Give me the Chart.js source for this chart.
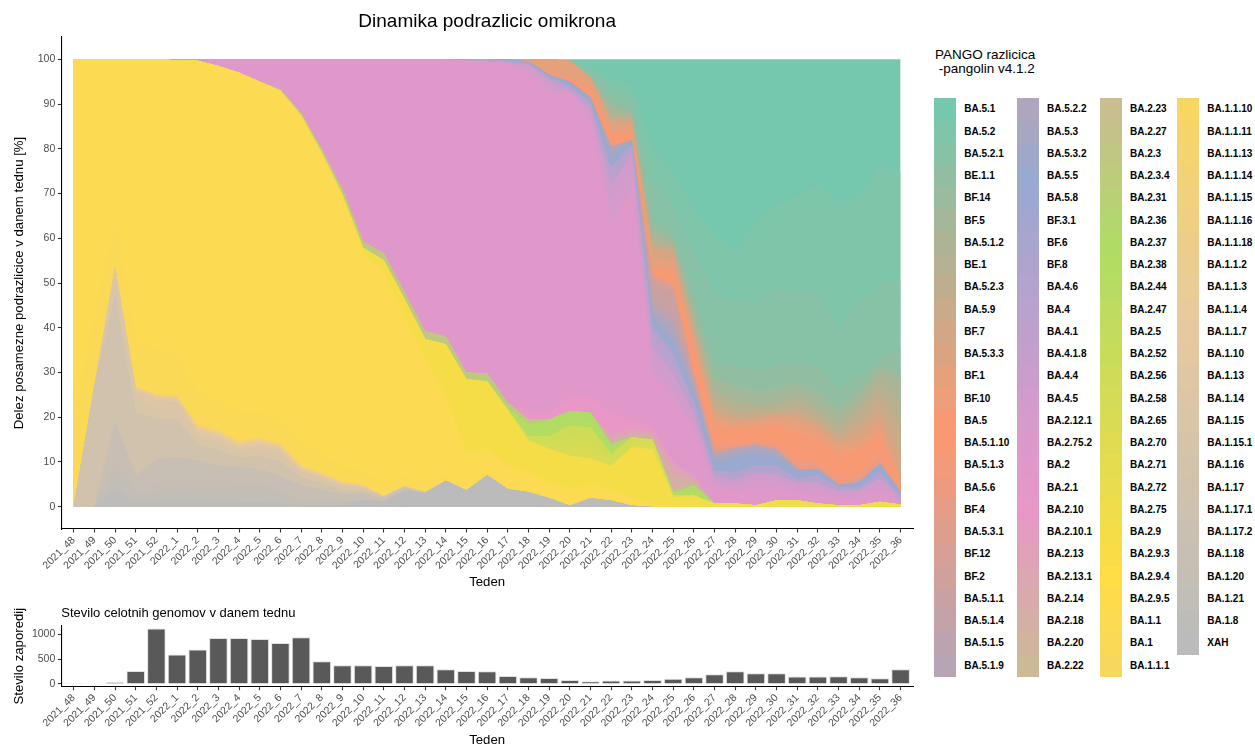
<!DOCTYPE html>
<html>
<head>
<meta charset="utf-8">
<title>Dinamika podrazlicic omikrona</title>
<script src="https://cdn.jsdelivr.net/npm/chart.js@4.4.1/dist/chart.umd.min.js"></script>
<style>
  body { margin: 0; background: #fff; font-family: "Liberation Sans", Arial, Helvetica, sans-serif; }
  #wrap { position: relative; width: 1255px; height: 747px; overflow: hidden; }
  canvas { position: absolute; left: 0; }
  #shares { top: 0; }
  #counts { top: 600px; }
  .lg-title { position: absolute; left: 935px; top: 48px; font-size: 13.5px; line-height: 13.5px; color: #000; white-space: pre; }
  .lg-key { position: absolute; width: 22px; height: 22.4px; }
  .lg-label { position: absolute; font-size: 10px; font-weight: bold; line-height: 12px; color: #000; white-space: nowrap; }
</style>
</head>
<body>
<div id="wrap">
  <canvas id="shares" width="925" height="600"></canvas>
  <canvas id="counts" width="925" height="147"></canvas>
  <div id="legend"></div>
</div>
<script>
const weeks = ['2021_48', '2021_49', '2021_50', '2021_51', '2021_52',
  '2022_1', '2022_2', '2022_3', '2022_4', '2022_5', '2022_6', '2022_7', '2022_8', '2022_9', '2022_10',
  '2022_11', '2022_12', '2022_13', '2022_14', '2022_15', '2022_16', '2022_17', '2022_18', '2022_19', '2022_20',
  '2022_21', '2022_22', '2022_23', '2022_24', '2022_25', '2022_26', '2022_27', '2022_28', '2022_29', '2022_30',
  '2022_31', '2022_32', '2022_33', '2022_34', '2022_35', '2022_36'];

// number of whole genomes per week
const genomes = [2, 12, 35, 262, 1121, 597, 698, 926, 926, 906, 826, 946, 456, 376, 376, 362, 376, 376, 295, 260,
  255, 161, 134, 121, 80, 54, 67, 67, 80, 107, 134, 195, 255, 215, 215, 148, 148, 154, 134, 114, 295];

// legend order (first one is stacked on top)
const lineages = [
  'BA.5.1', 'BA.5.2', 'BA.5.2.1', 'BE.1.1', 'BF.14', 'BF.5', 'BA.5.1.2', 'BE.1', 'BA.5.2.3', 'BA.5.9', 'BF.7', 'BA.5.3.3', 'BF.1',
  'BF.10', 'BA.5', 'BA.5.1.10', 'BA.5.1.3', 'BA.5.6', 'BF.4', 'BA.5.3.1', 'BF.12', 'BF.2', 'BA.5.1.1', 'BA.5.1.4', 'BA.5.1.5', 'BA.5.1.9',
  'BA.5.2.2', 'BA.5.3', 'BA.5.3.2', 'BA.5.5', 'BA.5.8', 'BF.3.1', 'BF.6', 'BF.8', 'BA.4.6', 'BA.4', 'BA.4.1', 'BA.4.1.8', 'BA.4.4',
  'BA.4.5', 'BA.2.12.1', 'BA.2.75.2', 'BA.2', 'BA.2.1', 'BA.2.10', 'BA.2.10.1', 'BA.2.13', 'BA.2.13.1', 'BA.2.14', 'BA.2.18', 'BA.2.20', 'BA.2.22',
  'BA.2.23', 'BA.2.27', 'BA.2.3', 'BA.2.3.4', 'BA.2.31', 'BA.2.36', 'BA.2.37', 'BA.2.38', 'BA.2.44', 'BA.2.47', 'BA.2.5', 'BA.2.52', 'BA.2.56',
  'BA.2.58', 'BA.2.65', 'BA.2.70', 'BA.2.71', 'BA.2.72', 'BA.2.75', 'BA.2.9', 'BA.2.9.3', 'BA.2.9.4', 'BA.2.9.5', 'BA.1.1', 'BA.1', 'BA.1.1.1',
  'BA.1.1.10', 'BA.1.1.11', 'BA.1.1.13', 'BA.1.1.14', 'BA.1.1.15', 'BA.1.1.16', 'BA.1.1.18', 'BA.1.1.2', 'BA.1.1.3', 'BA.1.1.4', 'BA.1.1.7',
  'BA.1.10', 'BA.1.13', 'BA.1.14', 'BA.1.15', 'BA.1.15.1', 'BA.1.16', 'BA.1.17', 'BA.1.17.1', 'BA.1.17.2', 'BA.1.18', 'BA.1.20', 'BA.1.21',
  'BA.1.8', 'XAH'];

// share of sequences per week [%], lineages not listed here are ~0
const BA_5_1 = [0,0,0,0,0,0,0,0,0,0, 0,0,0,0,0,0,0,0,0,0, 0, 0,0,0,0.3,1.5,4,6,20,25,33.7, 39,43,36.6,32.5,30.7,28,31.8,30.7,23.6,25.1];
const BA_5_2 = [0,0,0,0,0,0,0,0,0,0, 0,0,0,0,0,0,0,0,0,0, 0, 0,0,0,0,1.2,2.4,2.7,7,8,9.6, 13.2,11.1,17.9,18.6,21.2,24.2,27.9,23.4,27.1,24.2];
const BA_5_2_1 = [0,0,0,0,0,0,0,0,0,0, 0,0,0,0,0,0,0,0,0,0, 0, 0,0,0,0,0.7,2,2,8,6,8.9, 15.3,14.1,15.2,17.1,15.6,16.7,14.1,16.7,16.4,15.2];
const BE_1_1 = [0,0,0,0,0,0,0,0,0,0, 0,0,0,0,0,0,0,0,0,0, 0, 0,0,0,0,0.5,2,1.2,2.5,1.5,3, 3.4,4.5,4,5,4.4,5,4,3,1.5,5];
const BF_14 = [0,0,0,0,0,0,0,0,0,0, 0,0,0,0,0,0,0,0,0,0, 0, 0,0,0,0,0,0,0,0.5,0,0.5, 0.8,1.2,1,1.2,1,1.3,1,1,0.6,1.5];
const BF_5 = [0,0,0,0,0,0,0,0,0,0, 0,0,0,0,0,0,0,0,0,0, 0, 0,0,0,0,0,1,0.7,1.3,0.8,1.5, 1.7,2.5,2,2.3,2,2.3,2,1.6,0.9,2];
const BA_5_1_2 = [0,0,0,0,0,0,0,0,0,0, 0,0,0,0,0,0,0,0,0,0, 0, 0,0,0,0,0,1,0,1,0.6,1.2, 1.3,1,0.8,0.6,1,1,1,1.5,2,3.5];
const BE_1 = [0,0,0,0,0,0,0,0,0,0, 0,0,0,0,0,0,0,0,0,0, 0, 0,0,0,0,0,1.2,1,1.5,0.7,1.2, 1.5,1.2,1,0.8,1.2,1,1,1.5,2,3.5];
const BA_5_2_3 = [0,0,0,0,0,0,0,0,0,0, 0,0,0,0,0,0,0,0,0,0, 0, 0,0,0,0,0,0,0,0,0,0.5, 1.2,0.8,0.8,0.6,1,1,1,1.5,2,3.5];
const BA_5_9 = [0,0,0,0,0,0,0,0,0,0, 0,0,0,0,0,0,0,0,0,0, 0, 0,0,0,0,0,0,0,0,0,0.5, 1,0.8,0.6,0.5,1,0.9,1,1.5,2,3.5];
const BF_7 = [0,0,0,0,0,0,0,0,0,0, 0,0,0,0,0,0,0,0,0,0, 0, 0,0,0,0,0,0,0,1,1,1, 0.7,0.5,0.5,0.3,0.7,0.7,0.6,1.3,1.6,3];
const BA_5_3_3 = [0,0,0,0,0,0,0,0,0,0, 0,0,0,0,0,0,0,0,0,0, 0, 0,0,0,0,0.8,1,1,1.5,1.4,1, 0.7,0.5,0.4,0.3,0.7,0.6,0.6,1.2,1.5,3];
const BF_1 = [0,0,0,0,0,0,0,0,0,0, 0,0,0,0,0,0,0,0,0,0, 0, 0,0.5,3.2,3.9,1.5,1.6,1.3,2,2,1, 1,0.8,0.8,1,1.5,1.2,1.2,1.3,1.2,1];
const BF_10 = [0,0,0,0,0,0,0,0,0,0, 0,0,0,0,0,0,0,0,0,0, 0, 0,0,0,0,0,0,0,0,0,1, 1.2,0.8,0.7,1,1.5,1.2,1.3,1.3,1.3,0.7];
const BA_5 = [0,0,0,0,0,0,0,0,0,0, 0,0,0,0,0,0,0,0,0,0, 0, 0,0,0.3,0.8,2.3,2.5,2.2,1.5,2.5,3, 2.5,2,1.8,2.5,3.5,2.8,3,3,3,1];
const BA_5_1_10 = [0,0,0,0,0,0,0,0,0,0, 0,0,0,0,0,0,0,0,0,0, 0, 0,0,0,0,0,0.8,0,0.5,1.2,1.5, 1.5,1,1,1.3,2,1.5,1.5,1.6,1.5,0.5];
const BA_5_1_3 = [0,0,0,0,0,0,0,0,0,0, 0,0,0,0,0,0,0,0,0,0, 0, 0,0,0,0,0,0,0,0,0,0.8, 0.8,0.5,0.5,0.8,1.2,1,1,1.2,1,0.5];
const BA_5_6 = [0,0,0,0,0,0,0,0,0,0, 0,0,0,0,0,0,0,0,0,0, 0, 0,0,0,0,0,0,0,0,0,0.5, 0.4,0.5,0.4,0.7,0.8,0.7,0.7,0.7,0.7,0];
const BF_4 = [0,0,0,0,0,0,0,0,0,0, 0,0,0,0,0,0,0,0,0,0, 0, 0,0,0,0,0,0,0,0,0,0, 0.3,0,0,0,0.6,0.5,0.5,0.5,0.5,0];
const BF_12 = [0,0,0,0,0,0,0,0,0,0, 0,0,0,0,0,0,0,0,0,0, 0, 0,0,0,0,0,0,0,1,1,0.5, 0.3,0,0,0,0,0,0,0,0,0];
const BF_2 = [0,0,0,0,0,0,0,0,0,0, 0,0,0,0,0,0,0,0,0,0, 0, 0,0,0,0,0,0,0,1,1,0, 0,0,0,0,0,0,0,0,0,0];
const BA_5_1_1 = [0,0,0,0,0,0,0,0,0,0, 0,0,0,0,0,0,0,0,0,0, 0, 0,0,0,0,0,0,0,3,4,1.5, 0.8,0.5,0.5,0.4,0,0,0,0,0,0];
const BA_5_1_4 = [0,0,0,0,0,0,0,0,0,0, 0,0,0,0,0,0,0,0,0,0, 0, 0,0,0,0,0,0,0,1,1.2,0.5, 0,0,0,0,0,0,0,0,0,0];
const BA_5_1_5 = [0,0,0,0,0,0,0,0,0,0, 0,0,0,0,0,0,0,0,0,0, 0, 0,0,0,0,0,0,0,0.7,1,0, 0,0,0,0,0,0,0,0,0,0];
const BA_5_1_9 = [0,0,0,0,0,0,0,0,0,0, 0,0,0,0,0,0,0,0,0,0, 0, 0,0,0,0,0,0,0,0.7,0.8,0, 0,0,0,0,0,0,0,0,0,0];
const BA_5_2_2 = [0,0,0,0,0,0,0,0,0,0, 0,0,0,0,0,0,0,0,0,0, 0, 0,0,0,0,0,1,0,1,1.5,1, 0.5,0.8,0.8,0.6,0.4,0,0,0,0,0];
const BA_5_3 = [0,0,0,0,0,0,0,0,0,0, 0,0,0,0,0,0,0,0,0,0, 0, 0,0,0,0,0,1.5,0.4,1,1.5,0.5, 0.5,0.7,0.5,0.5,0,0,0,0,0,0];
const BA_5_3_2 = [0,0,0,0,0,0,0,0,0,0, 0,0,0,0,0,0,0,0,0,0, 0, 0,0,0,0,0,0,0,0.5,1,0, 0.4,0.8,0.8,0.6,0.5,0.5,0,0,0.5,0];
const BA_5_5 = [0,0,0,0,0,0,0,0,0,0, 0,0,0,0,0,0,0,0,0,0, 0, 0.3,0.3,0.5,1,1,2,0.6,1.5,2,1.5, 1.4,2,1.5,1.1,0.9,0.9,0.4,0.7,1,0.8];
const BA_5_8 = [0,0,0,0,0,0,0,0,0,0, 0,0,0,0,0,0,0,0,0,0, 0, 0,0,0,0,0,0,0,0,0,0.5, 0.5,0.7,0.7,0.5,0.4,0,0,0.4,0.4,0];
const BA_4_6 = [0,0,0,0,0,0,0,0,0,0, 0,0,0,0,0,0,0,0,0,0, 0, 0,0,0,0,0.5,1.5,0.5,1.5,1.5,1, 1,1.2,1.2,1.5,0.7,1.3,0.9,0.7,1.4,0.5];
const BA_4 = [0,0,0,0,0,0,0,0,0,0, 0,0,0,0,0,0,0,0,0,0.3, 0.5, 0.5,0.3,0.7,1,1,2,1,2,2,1, 0.6,0.5,0.6,0.7,0,0.4,0,0,0,0];
const BA_4_1 = [0,0,0,0,0,0,0,0,0,0, 0,0,0,0,0,0,0,0,0,0, 0, 0,0,0,0,0,1,0.5,1,1,0.7, 0,0,0,0,0,0,0,0,0,0];
const BA_4_4 = [0,0,0,0,0,0,0,0,0,0, 0,0,0,0,0,0,0,0,0,0, 0, 0,0,0,0,0,0,0,0.5,0.5,0, 0,0,0,0,0,0,0,0,0,0];
const BA_4_5 = [0,0,0,0,0,0,0,0,0,0, 0,0,0,0,0,0,0,0,0,0, 0, 0,0.5,0.8,0,0.8,4,4,3,3,2, 1,1.2,1.2,1.5,0.7,1.3,1,0.8,1.5,0.5];
const BA_2_12_1 = [0,0,0,0,0,0,0,0,0,0, 0,0,0,0,0,0,0,0,0,0, 0, 0,1.5,1.7,1,1.2,3.8,4,2.5,2,1.5, 1,0.8,1,0.8,0.5,0.4,0,0,0,0];
const BA_2_75_2 = [0,0,0,0,0,0,0,0,0,0, 0,0,0,0,0,0,0,0,0,0, 0, 0,0,0,0,0,0,0,0,0,0, 0.5,0.6,1.2,1,1,1.2,0.8,1,1.5,1];
const BA_2 = [0,0,0,0,0,0.2,0.3,1.5,3,5, 6.7,12,20,29,40.7,43.3,52,60.8,61.9,69.7,
  69.7, 75.9,75.4,71.3,67.1,62,42.8,51.4,11.8,14.4,10.6, 3.3,2.7,3.7,2.3,1.9,1.7,1.4,1.6,2.2,0];
const BA_2_1 = [0,0,0,0,0,0,0,0,0,0, 0,0,0,0,0,0,0,0,0,0, 0, 0,0.5,0.5,0.5,0.5,0,0,0,0,0, 0,0,0,0,0,0,0,0,0,0];
const BA_2_10 = [0,0,0,0,0,0,0,0,0,0, 0,0,0,0,0,0,0,0,0,0, 0, 0,1.5,1.5,3,3.5,4.7,2,1,0,0, 0,0,0,0,0,0,0,0,0,0];
const BA_2_13 = [0,0,0,0,0,0,0,0,0,0, 0,0,0,0,0,0,0,0,0,0, 0, 0,0,0,0,0,1,1,1,2,0.7, 0,0,0,0,0,0,0,0,0,0];
const BA_2_14 = [0,0,0,0,0,0,0,0,0,0, 0,0,0,0,0,0,0,0,0,0, 0, 0,0,0,0,0,0,0,0,1.5,0, 0,0,0,0,0,0,0,0,0,0];
const BA_2_18 = [0,0,0,0,0,0,0,0,0,0, 0,0,0,0,0,0,0,0,0,0, 0, 0,0,0,0,0,1.2,1,1,2,0.8, 0,0,0,0,0,0,0,0,0,0];
const BA_2_20 = [0,0,0,0,0,0,0,0,0,0, 0,0,0,0,0,0,0,0,0,0, 0, 0,0,0,0,0,0,0,0,1.2,0.5, 0,0,0,0,0,0,0,0,0,0];
const BA_2_3 = [0,0,0,0,0,0,0,0,0,0, 0.3,0.5,0.8,1.2,1.5,1.6,1.6,1.7,1.8,1.5, 1.5, 1.2,1,0,0,0,0,0,0,0,0, 0,0,0,0,0,0,0,0,0,0];
const BA_2_37 = [0,0,0,0,0,0,0,0,0,0, 0,0,0,0,0,0,0,0,0,0, 0, 0,0,1.5,1.3,1.3,1,0,0,0,1, 0,0,0,0,0,0,0,0,0,0];
const BA_2_38 = [0,0,0,0,0,0,0,0,0,0, 0,0,0,0,0,0,0,0,0,0, 0.3, 0.5,2.7,2.2,2,2,1.2,0,0,0.6,1.3, 0,0,0,0,0,0,0,0,0,0];
const BA_2_56 = [0,0,0,0,0,0,0,0,0,0, 0,0,0,0,0,0,0,0,0,0, 0, 0,1,1.5,2.5,2.5,1,0,0,0,0, 0,0,0,0,0,0,0,0,0,0];
const BA_2_58 = [0,0,0,0,0,0,0,0,0,0, 0,0,0,0,0,0,0,0,0,0, 0, 0,0,1.4,2.2,2.5,1,1.2,0,0,0, 0,0,0,0,0,0,0,0,0,0];
const BA_2_65 = [0,0,0,0,0,0,0,0,0,0, 0,0,0,0,0,0,0,0,0,0, 0, 0,0,0,2,2,0.7,1,1.2,0.5,0, 0,0,0,0,0,0,0,0,0,0];
const BA_2_70 = [0,0,0,0,0,0,0,0,0,0, 0,0,0,0,0,0,0,0,0,0, 0, 0,0,0,0,0,0,0,1,0,0, 0,0,0,0,0,0,0,0,0,0];
const BA_2_75 = [0,0,0,0,0,0,0,0,0,0, 0,0,0,0,0,0,0,0,0,0, 0, 0,0,0,0,0,0,0,0,0,1, 0.7,0.7,0.3,1.4,1.4,0.7,0.3,0.3,1.1,0.5];
const BA_2_9 = [0,0,0,0,0,0,0,0,0,0, 0,0.3,0.5,0.8,1.5,2.9,3.5,4.6,11.6,16.3,
  15, 12.5,7.1,7.4,7.4,5.7,5.1,11.6,12.2,2.1,1.5, 0,0,0,0,0,0,0,0,0,0];
const BA_1_1 = [80,58,36,63,65,66,74,75,76,74, 73,73,67,60,48.5,47,36,27.8,17.5,7.8,
  5.3, 4.7,4,3.2,3.4,2.8,2.4,1.3,0.6,0,0, 0,0,0,0,0,0,0,0,0,0];
const BA_1 = [20,15,10.4,10.3,9.9,8.9,7.4,6.4,6.3,5.6, 5.9,5,4.1,3.4,3,2.8,2.3,1.9,1.4,0.8,
  0.7, 0.5,0.5,0.4,0.4,0.3,0.3,0.2,0,0,0, 0,0,0,0,0,0,0,0,0,0];
const BA_1_1_14 = [0,0,0,0,0.5,0.6,0.6,0.6,0.6,0.5, 0.5,0.4,0.4,0.3,0.2,0,0,0,0,0, 0, 0,0,0,0,0,0,0,0,0,0, 0,0,0,0,0,0,0,0,0,0];
const BA_1_1_2 = [0,0,0,0,0,0,0.4,0.4,0.4,0.4, 0.3,0.3,0.2,0.2,0,0,0,0,0,0, 0, 0,0,0,0,0,0,0,0,0,0, 0,0,0,0,0,0,0,0,0,0];
const BA_1_10 = [0,0,0,0.8,0.8,0.8,0.8,0.8,0.7,0.7, 0.7,0.5,0.4,0.3,0.3,0.2,0.2,0,0,0, 0, 0,0,0,0,0,0,0,0,0,0, 0,0,0,0,0,0,0,0,0,0];
const BA_1_14 = [0,0,2.4,2,1.7,1.5,1,1,0.8,0.9, 1,0.5,0.5,0.4,0.3,0,0,0,0,0, 0, 0,0,0,0,0,0,0,0,0,0, 0,0,0,0,0,0,0,0,0,0];
const BA_1_15 = [0,0,4,3,2.5,2.5,1.7,1.7,1.2,1.5, 1.5,1,0.8,0.6,0.4,0,0,0,0,0, 0, 0,0,0,0,0,0,0,0,0,0, 0,0,0,0,0,0,0,0,0,0];
const BA_1_17 = [0,27,28,14,9,8.5,3.5,3.5,2.2,3, 3.3,1.8,1.5,1,0.6,0.5,0.4,0.2,0,0, 0, 0,0,0,0,0,0,0,0,0,0, 0,0,0,0,0,0,0,0,0,0];
const BA_1_18 = [0,0,9,3,5.5,5,4.5,3.6,3.5,3, 2.6,2.8,2.2,1.5,1.2,0.5,0.5,0,0,0, 0, 0,0,0,0,0,0,0,0,0,0, 0,0,0,0,0,0,0,0,0,0];
const BA_1_20 = [0,0,2.5,1.1,1.9,1.9,1.8,1.5,1.3,1.1, 0.9,0.9,0.8,0.5,0.3,0,0,0,0,0, 0, 0,0,0,0,0,0,0,0,0,0, 0,0,0,0,0,0,0,0,0,0];
const BA_1_21 = [0,0,3.7,1.8,1.7,2.6,2.5,2.5,3,3.3, 2.5,0.5,0.5,0.3,0,0,0,0,0,0, 0, 0,0,0,0,0,0,0,0,0,0, 0,0,0,0,0,0,0,0,0,0];
const BA_1_8 = [0,0,4,1,1.5,1.5,1.5,1.5,1,1, 0.8,0.5,0.3,0,0,0,0,0,0,0, 0, 0,0,0,0,0,0,0,0,0,0, 0,0,0,0,0,0,0,0,0,0];
const XAH = [0,0,0,0,0,0,0,0,0,0, 0,0,0,0.5,1.5,1.2,3.5,3,5.8,3.6, 7, 3.9,3.2,1.9,0.2,1.9,1.3,0.2,0,0,0, 0,0,0,0,0,0,0,0,0,0];

const shares = {
  'BA.5.1': BA_5_1, 'BA.5.2': BA_5_2, 'BA.5.2.1': BA_5_2_1, 'BE.1.1': BE_1_1, 'BF.14': BF_14, 'BF.5': BF_5,
  'BA.5.1.2': BA_5_1_2, 'BE.1': BE_1, 'BA.5.2.3': BA_5_2_3, 'BA.5.9': BA_5_9, 'BF.7': BF_7, 'BA.5.3.3': BA_5_3_3,
  'BF.1': BF_1, 'BF.10': BF_10, 'BA.5': BA_5, 'BA.5.1.10': BA_5_1_10, 'BA.5.1.3': BA_5_1_3, 'BA.5.6': BA_5_6,
  'BF.4': BF_4, 'BF.12': BF_12, 'BF.2': BF_2, 'BA.5.1.1': BA_5_1_1, 'BA.5.1.4': BA_5_1_4, 'BA.5.1.5': BA_5_1_5,
  'BA.5.1.9': BA_5_1_9, 'BA.5.2.2': BA_5_2_2, 'BA.5.3': BA_5_3, 'BA.5.3.2': BA_5_3_2, 'BA.5.5': BA_5_5, 'BA.5.8': BA_5_8,
  'BA.4.6': BA_4_6, 'BA.4': BA_4, 'BA.4.1': BA_4_1, 'BA.4.4': BA_4_4, 'BA.4.5': BA_4_5, 'BA.2.12.1': BA_2_12_1,
  'BA.2.75.2': BA_2_75_2, 'BA.2': BA_2, 'BA.2.1': BA_2_1, 'BA.2.10': BA_2_10, 'BA.2.13': BA_2_13, 'BA.2.14': BA_2_14,
  'BA.2.18': BA_2_18, 'BA.2.20': BA_2_20, 'BA.2.3': BA_2_3, 'BA.2.37': BA_2_37, 'BA.2.38': BA_2_38, 'BA.2.56': BA_2_56,
  'BA.2.58': BA_2_58, 'BA.2.65': BA_2_65, 'BA.2.70': BA_2_70, 'BA.2.75': BA_2_75, 'BA.2.9': BA_2_9, 'BA.1.1': BA_1_1,
  'BA.1': BA_1, 'BA.1.1.14': BA_1_1_14, 'BA.1.1.2': BA_1_1_2, 'BA.1.10': BA_1_10, 'BA.1.14': BA_1_14, 'BA.1.15': BA_1_15,
  'BA.1.17': BA_1_17, 'BA.1.18': BA_1_18, 'BA.1.20': BA_1_20, 'BA.1.21': BA_1_21, 'BA.1.8': BA_1_8, 'XAH': XAH
};

Object.keys(shares).forEach(function (name) {
  if (shares[name].length !== weeks.length) throw new Error(name + ' has ' + shares[name].length + ' values');
});

// Set2 palette stretched over all lineages, drawn with alpha 0.9 on white
const set2 = ['#66C2A5', '#FC8D62', '#8DA0CB', '#E78AC3', '#A6D854', '#FFD92F', '#E5C494', '#B3B3B3'];
function hexRgb(h) { return [1, 3, 5].map(i => parseInt(h.substr(i, 2), 16)); }
function rampColor(k, n) {
  const pos = k / (n - 1) * (set2.length - 1);
  const j = Math.min(Math.floor(pos), set2.length - 2);
  const t = pos - j;
  const a = hexRgb(set2[j]), b = hexRgb(set2[j + 1]);
  const c = a.map((v, i) => Math.round(0.9 * (v + (b[i] - v) * t) + 0.1 * 255));
  return 'rgb(' + c.join(',') + ')';
}
const colors = lineages.map((l, k) => rampColor(k, lineages.length));

const zeros = weeks.map(() => 0);
const totals = weeks.map((w, i) => lineages.reduce((s, name) => s + (shares[name] ? shares[name][i] : 0), 0));

Chart.defaults.font.family = '"Liberation Sans", Arial, Helvetica, sans-serif';
Chart.defaults.color = '#4d4d4d';

// bottom of stack is the last legend entry; every layer is filled down to 0
// and painted over the ones above it, so no hairline gaps show between layers
const stackOrder = lineages.slice().reverse();
const areaSets = stackOrder.map(function (name) {
  const k = lineages.indexOf(name);
  const raw = shares[name] || zeros;
  return {
    label: name,
    data: raw.map((v, i) => ({ x: i, y: totals[i] ? v / totals[i] * 100 : 0 })),
    backgroundColor: colors[k],
    borderWidth: 0,
    pointRadius: 0,
    tension: 0,
    fill: 'origin'
  };
});

const axisTitleFont = { size: 13.2, lineHeight: 1 };
const tickFont = { size: 10.5 };

function weekAxis(height, titlePad) {
  return {
    type: 'linear', min: -0.6, max: 40.6, offset: false,
    afterBuildTicks: function (scale) { scale.ticks = weeks.map((w, i) => ({ value: i })); },
    afterFit: function (scale) { scale.height = height; },
    ticks: { autoSkip: false, minRotation: 45, maxRotation: 45, padding: 1.5, color: '#4d4d4d', font: tickFont,
      callback: function (v) { return weeks[v]; } },
    grid: { drawOnChartArea: false, offset: false, tickLength: 3.5, tickColor: '#333', tickWidth: 1.1 },
    border: { color: '#000', width: 1.1 },
    title: { display: true, text: 'Teden', color: '#000', font: axisTitleFont, padding: { top: 0, bottom: titlePad } }
  };
}

function plainTicks(v) { return String(v); }

var sharesChart = new Chart(document.getElementById('shares'), {
  type: 'line',
  data: { datasets: areaSets },
  options: {
    responsive: false,
    animation: false,
    events: [],
    layout: { padding: { left: 0, right: 12, top: 0, bottom: 0 } },
    plugins: {
      legend: { display: false },
      tooltip: { enabled: false },
      title: {
        display: true, text: 'Dinamika podrazlicic omikrona', fullSize: false, color: '#000',
        font: { size: 19, weight: 'normal', lineHeight: 1.2 }, padding: { top: 10.6, bottom: 3.6 }
      }
    },
    scales: {
      x: weekAxis(71, 11.4),
      y: {
        stacked: true, min: -5, max: 105,
        afterBuildTicks: function (scale) { scale.ticks = [0, 10, 20, 30, 40, 50, 60, 70, 80, 90, 100].map(v => ({ value: v })); },
        afterFit: function (scale) { scale.width = 61.3; },
        ticks: { padding: 2.5, color: '#4d4d4d', font: tickFont, callback: plainTicks },
        grid: { drawOnChartArea: false, tickLength: 3.5, tickColor: '#333', tickWidth: 1.1 },
        border: { color: '#000', width: 1.1 },
        title: { display: true, text: 'Delez posamezne podrazlicice v danem tednu [%]', color: '#000',
          font: { size: 13.2, lineHeight: 1.2 }, padding: { top: 11, bottom: 0 } }
      }
    }
  }
});

var countsChart = new Chart(document.getElementById('counts'), {
  type: 'bar',
  data: {
    datasets: [{
      data: genomes.map((v, i) => ({ x: i, y: v })),
      backgroundColor: '#595959',
      borderColor: '#e0e0e0',
      borderWidth: 1,
      barPercentage: 0.9,
      categoryPercentage: 1
    }]
  },
  options: {
    responsive: false,
    animation: false,
    events: [],
    layout: { padding: { left: 0, right: 12, top: 0, bottom: 0 } },
    plugins: {
      legend: { display: false },
      tooltip: { enabled: false },
      title: {
        display: true, text: 'Stevilo celotnih genomov v danem tednu', align: 'start', fullSize: false, color: '#000',
        font: { size: 13, weight: 'normal', lineHeight: 1.2 }, padding: { top: 5.2, bottom: 4.9 }
      }
    },
    scales: {
      x: weekAxis(60.3, 0.4),
      y: {
        min: -56, max: 1177,
        afterBuildTicks: function (scale) { scale.ticks = [0, 250, 500, 750, 1000].map(v => ({ value: v })); },
        afterFit: function (scale) { scale.width = 61.3; },
        ticks: { padding: 2.5, color: '#4d4d4d', font: tickFont, callback: plainTicks },
        grid: { drawOnChartArea: false, tickLength: 3.5, tickColor: '#333', tickWidth: 1.1 },
        border: { color: '#000', width: 1.1 },
        title: { display: true, text: 'Stevilo zaporedij', color: '#000',
          font: { size: 13.2, lineHeight: 1.2 }, padding: { top: 11, bottom: 0 } }
      }
    }
  }
});

// legend: 4 columns of 26 keys
var legendBox = document.getElementById('legend');
var lgTitle = document.createElement('div');
lgTitle.className = 'lg-title';
lgTitle.textContent = 'PANGO razlicica\n -pangolin v4.1.2';
legendBox.appendChild(lgTitle);

var keyX = [934.3, 1017, 1100, 1177.3];
var rowH = 22.25, firstRow = 98.3;
lineages.forEach(function (name, k) {
  var col = Math.floor(k / 26), row = k % 26;
  var top = firstRow + row * rowH;
  var key = document.createElement('div');
  key.className = 'lg-key';
  key.style.left = keyX[col] + 'px';
  key.style.top = top + 'px';
  key.style.background = colors[k];
  legendBox.appendChild(key);
  var lab = document.createElement('div');
  lab.className = 'lg-label';
  lab.style.left = (keyX[col] + 30) + 'px';
  lab.style.top = (top + rowH / 2 - 6) + 'px';
  lab.textContent = name;
  legendBox.appendChild(lab);
});
</script>
</body>
</html>
